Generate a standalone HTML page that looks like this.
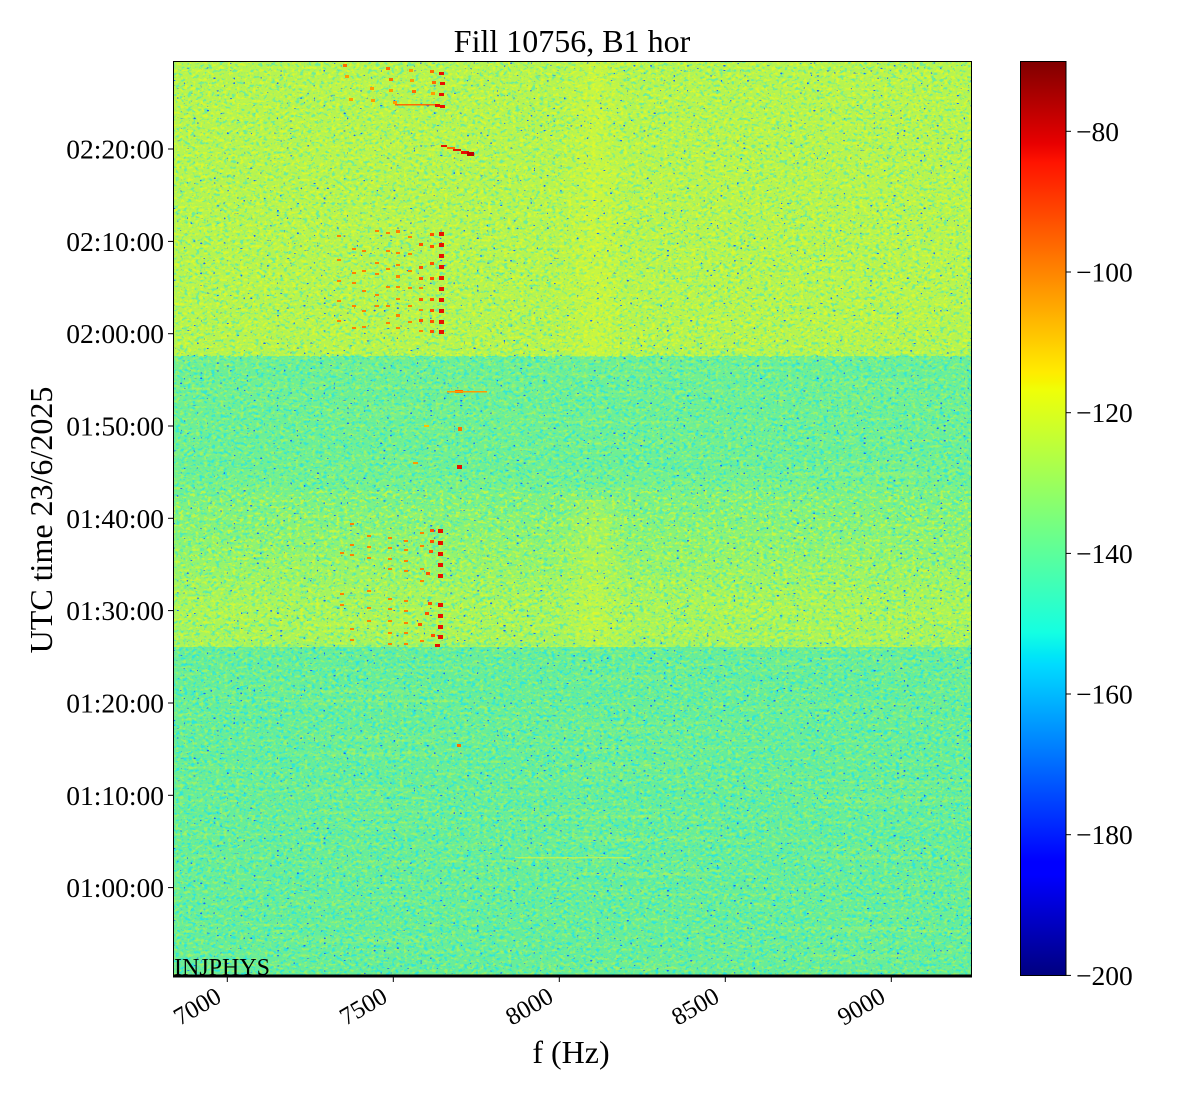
<!DOCTYPE html>
<html>
<head>
<meta charset="utf-8">
<style>
  html, body { margin: 0; padding: 0; background: #ffffff; }
  svg { display: block; }
  text { font-family: "Liberation Serif", "DejaVu Serif", serif; fill: #000; }
</style>
</head>
<body>
<svg width="1200" height="1100" viewBox="0 0 1200 1100" xmlns="http://www.w3.org/2000/svg">
  <defs>
    <linearGradient id="jet" x1="0" y1="1" x2="0" y2="0">
      <stop offset="0" stop-color="rgb(0,0,128)"/>
      <stop offset="0.11" stop-color="rgb(0,0,255)"/>
      <stop offset="0.125" stop-color="rgb(0,0,255)"/>
      <stop offset="0.34" stop-color="rgb(0,219,255)"/>
      <stop offset="0.35" stop-color="rgb(0,230,247)"/>
      <stop offset="0.375" stop-color="rgb(20,255,226)"/>
      <stop offset="0.64" stop-color="rgb(239,255,8)"/>
      <stop offset="0.65" stop-color="rgb(247,245,0)"/>
      <stop offset="0.66" stop-color="rgb(255,236,0)"/>
      <stop offset="0.89" stop-color="rgb(255,19,0)"/>
      <stop offset="0.91" stop-color="rgb(232,0,0)"/>
      <stop offset="1" stop-color="rgb(128,0,0)"/>
    </linearGradient>
    <linearGradient id="trans" gradientUnits="userSpaceOnUse" x1="0" y1="470" x2="0" y2="647">
      <stop offset="0" stop-color="rgb(112,240,146)"/>
      <stop offset="0.4" stop-color="rgb(140,243,116)"/>
      <stop offset="0.79" stop-color="rgb(172,245,88)"/>
      <stop offset="1" stop-color="rgb(168,244,92)"/>
    </linearGradient>
    <linearGradient id="vstrip" x1="0" y1="0" x2="1" y2="0">
      <stop offset="0" stop-color="rgb(240,250,30)" stop-opacity="0"/>
      <stop offset="0.5" stop-color="rgb(240,250,30)" stop-opacity="0.3"/>
      <stop offset="1" stop-color="rgb(240,250,30)" stop-opacity="0"/>
    </linearGradient>
    <filter id="fcy" x="0" y="0" width="1" height="1" color-interpolation-filters="sRGB">
      <feTurbulence type="fractalNoise" baseFrequency="0.25 0.33" numOctaves="2" seed="7"/>
      <feColorMatrix type="matrix" values="0 0 0 0 0.16  0 0 0 0 0.9  0 0 0 0 0.88  7 0 0 0 -3.75"/>
    </filter>
    <filter id="fye" x="0" y="0" width="1" height="1" color-interpolation-filters="sRGB">
      <feTurbulence type="fractalNoise" baseFrequency="0.25 0.33" numOctaves="2" seed="11"/>
      <feColorMatrix type="matrix" values="0 0 0 0 0.9  0 0 0 0 0.98  0 0 0 0 0.14  7 0 0 0 -3.75"/>
    </filter>
    <filter id="fbl" x="0" y="0" width="1" height="1" color-interpolation-filters="sRGB">
      <feTurbulence type="fractalNoise" baseFrequency="0.3 0.4" numOctaves="1" seed="23"/>
      <feColorMatrix type="matrix" values="0 0 0 0 0.08  0 0 0 0 0.4  0 0 0 0 1  28 0 0 0 -20.3"/>
    </filter>
    <filter id="frow" x="0" y="0" width="1" height="1" color-interpolation-filters="sRGB">
      <feTurbulence type="fractalNoise" baseFrequency="0.004 0.3" numOctaves="1" seed="3"/>
      <feColorMatrix type="matrix" values="0 0 0 0 0.85  0 0 0 0 0.97  0 0 0 0 0.25  5 0 0 0 -2.8"/>
    </filter>
    <filter id="frow2" x="0" y="0" width="1" height="1" color-interpolation-filters="sRGB">
      <feTurbulence type="fractalNoise" baseFrequency="0.004 0.3" numOctaves="1" seed="17"/>
      <feColorMatrix type="matrix" values="0 0 0 0 0.25  0 0 0 0 0.93  0 0 0 0 0.8  5 0 0 0 -2.8"/>
    </filter>
    <clipPath id="plotclip"><rect x="173" y="61" width="799" height="914"/></clipPath>
  </defs>

  <!-- Title -->
  <text x="572" y="52" font-size="32" text-anchor="middle">Fill 10756, B1 hor</text>

  <!-- Heatmap -->
  <g clip-path="url(#plotclip)">
    <rect x="173" y="61" width="799" height="296" fill="rgb(182,244,80)"/>
    <rect x="173" y="356" width="799" height="115" fill="rgb(110,239,148)"/>
    <rect x="173" y="470" width="799" height="178" fill="url(#trans)"/>
    <rect x="173" y="647" width="799" height="328" fill="rgb(104,237,152)"/>

    <!-- row streaks -->
    <rect x="173" y="61" width="799" height="914" fill="#000" filter="url(#frow)" opacity="0.25"/>
    <rect x="173" y="356" width="799" height="619" fill="#000" filter="url(#frow2)" opacity="0.2"/>

    <!-- speckle noise: top band -->
    <rect x="173" y="61" width="799" height="296" fill="#000" filter="url(#fcy)" opacity="0.55"/>
    <rect x="173" y="61" width="799" height="296" fill="#000" filter="url(#fye)" opacity="0.75"/>
    <!-- mid band -->
    <rect x="173" y="356" width="799" height="134" fill="#000" filter="url(#fcy)" opacity="0.85"/>
    <rect x="173" y="356" width="799" height="134" fill="#000" filter="url(#fye)" opacity="0.4"/>
    <!-- yellowish band -->
    <rect x="173" y="490" width="799" height="157" fill="#000" filter="url(#fcy)" opacity="0.6"/>
    <rect x="173" y="490" width="799" height="157" fill="#000" filter="url(#fye)" opacity="0.65"/>
    <!-- bottom band -->
    <rect x="173" y="647" width="799" height="328" fill="#000" filter="url(#fcy)" opacity="0.95"/>
    <rect x="173" y="647" width="799" height="328" fill="#000" filter="url(#fye)" opacity="0.4"/>

    <!-- brighter vertical strip near 8100 Hz -->
    <rect x="560" y="61" width="70" height="296" fill="url(#vstrip)"/>
    <rect x="560" y="500" width="70" height="147" fill="url(#vstrip)"/>

    <!-- blue dots -->
    <rect x="173" y="61" width="799" height="914" fill="#000" filter="url(#fbl)"/>

    <!-- faint streak near bottom -->
    <rect x="515" y="857" width="115" height="1.5" fill="rgb(215,245,60)" opacity="0.7"/>

    <!-- Marks: top region -->
    <g fill="#ff6a00">
      <rect x="343" y="64" width="4" height="3"/>
      <rect x="386" y="67" width="4" height="3"/>
      <rect x="430" y="70" width="4" height="3"/>
      <rect x="389" y="78" width="4" height="3"/>
      <rect x="432" y="81" width="4" height="3"/>
      <rect x="412" y="90" width="4" height="3"/>
      <rect x="395" y="104" width="40" height="1.5"/>
      <rect x="447" y="147" width="8" height="2"/>
      <rect x="455" y="390" width="8" height="3"/>
      <rect x="447" y="391" width="40" height="1.5" fill="#ff9a00"/>
      <rect x="458" y="427" width="4" height="4"/>
      <rect x="457" y="744" width="4" height="3"/>
    </g>
    <g fill="#ff9a00">
      <rect x="409" y="69" width="4" height="3"/>
      <rect x="345" y="75" width="4" height="3"/>
      <rect x="410" y="79" width="4" height="3"/>
      <rect x="370" y="87" width="4" height="3"/>
      <rect x="389" y="89" width="4" height="3"/>
      <rect x="431" y="92" width="4" height="3"/>
      <rect x="349" y="98" width="4" height="3"/>
      <rect x="371" y="99" width="4" height="3"/>
      <rect x="393" y="101" width="4" height="3"/>
      <rect x="413" y="462" width="5" height="2"/>
      <rect x="424" y="425" width="5" height="2" fill="#ffc000"/>
    </g>
    <g fill="#e81000">
      <rect x="439" y="72" width="5" height="3"/>
      <rect x="440" y="82" width="5" height="3"/>
      <rect x="439" y="93" width="5" height="3"/>
      <rect x="435" y="104" width="5" height="3"/>
      <rect x="440" y="105" width="5" height="3"/>
      <rect x="441" y="145" width="6" height="2"/>
      <rect x="453" y="149" width="8" height="2"/>
      <rect x="461" y="151" width="8" height="3"/>
      <rect x="467" y="152" width="7" height="4" fill="#c00000"/>
      <rect x="457" y="465" width="5" height="4"/>
    </g>

    <!-- Marks: 02:00-02:12 band -->
    <g fill="#e81000">
      <rect x="439" y="232" width="5" height="4"/><rect x="439" y="243" width="5" height="4"/>
      <rect x="439" y="254" width="5" height="4"/><rect x="439" y="265" width="5" height="4"/>
      <rect x="439" y="276" width="5" height="4"/><rect x="439" y="287" width="5" height="4"/>
      <rect x="439" y="298" width="5" height="4"/><rect x="439" y="309" width="5" height="4"/>
      <rect x="439" y="320" width="5" height="4"/><rect x="439" y="330" width="5" height="4"/>
    </g>
    <g fill="#ff5000">
      <rect x="430" y="233" width="4" height="3"/><rect x="430" y="245" width="4" height="3"/>
      <rect x="430" y="262" width="4" height="3"/><rect x="430" y="277" width="4" height="3"/>
      <rect x="430" y="298" width="4" height="3"/><rect x="430" y="309" width="4" height="3"/>
      <rect x="430" y="320" width="4" height="3"/><rect x="430" y="330" width="4" height="3"/>
      <rect x="419" y="243" width="4" height="3"/><rect x="419" y="266" width="4" height="3"/>
      <rect x="419" y="277" width="4" height="3"/><rect x="419" y="298" width="4" height="3"/>
      <rect x="419" y="319" width="4" height="3"/>
    </g>
    <g fill="#ff8000">
      <rect x="419" y="287" width="4" height="2"/><rect x="419" y="309" width="4" height="2"/>
      <rect x="419" y="330" width="4" height="2"/>
      <rect x="408" y="236" width="4" height="2"/><rect x="408" y="253" width="4" height="2"/>
      <rect x="408" y="270" width="4" height="2"/><rect x="408" y="287" width="4" height="2"/>
      <rect x="408" y="305" width="4" height="2"/><rect x="408" y="321" width="4" height="2"/>
      <rect x="396" y="230" width="4" height="3"/><rect x="396" y="252" width="4" height="2"/>
      <rect x="396" y="264" width="4" height="2"/><rect x="396" y="275" width="4" height="3"/>
      <rect x="396" y="286" width="4" height="2"/><rect x="396" y="298" width="4" height="2"/>
      <rect x="396" y="314" width="4" height="3"/><rect x="396" y="327" width="4" height="2"/>
      <rect x="386" y="232" width="4" height="2"/><rect x="386" y="250" width="4" height="2"/>
      <rect x="386" y="268" width="4" height="2"/><rect x="386" y="286" width="4" height="2"/>
      <rect x="386" y="305" width="4" height="2"/><rect x="386" y="322" width="4" height="2"/>
      <rect x="375" y="230" width="4" height="2"/><rect x="375" y="262" width="4" height="2"/>
      <rect x="375" y="273" width="4" height="2"/><rect x="375" y="294" width="4" height="2"/>
      <rect x="375" y="305" width="4" height="2"/>
      <rect x="362" y="250" width="4" height="2"/><rect x="362" y="270" width="4" height="2"/>
      <rect x="362" y="290" width="4" height="2"/><rect x="362" y="310" width="4" height="2"/>
      <rect x="362" y="326" width="4" height="2"/>
      <rect x="352" y="248" width="4" height="2"/><rect x="352" y="272" width="4" height="2"/>
      <rect x="352" y="282" width="4" height="2"/><rect x="352" y="305" width="4" height="2"/>
      <rect x="352" y="327" width="4" height="2"/>
      <rect x="337" y="235" width="4" height="2"/><rect x="337" y="259" width="4" height="2"/>
      <rect x="337" y="280" width="4" height="2"/><rect x="337" y="300" width="4" height="2"/>
      <rect x="337" y="320" width="4" height="2"/>
    </g>

    <!-- Marks: 01:26-01:39 band -->
    <g fill="#e81000">
      <rect x="438" y="529" width="5" height="4"/><rect x="438" y="541" width="5" height="4"/>
      <rect x="438" y="552" width="5" height="4"/><rect x="438" y="563" width="5" height="4"/>
      <rect x="438" y="574" width="5" height="4"/><rect x="438" y="603" width="5" height="4"/>
      <rect x="438" y="614" width="5" height="4"/><rect x="438" y="625" width="5" height="4"/>
      <rect x="438" y="635" width="5" height="4"/><rect x="435" y="644" width="5" height="3"/>
    </g>
    <g fill="#ff5000">
      <rect x="430" y="529" width="4" height="3"/><rect x="430" y="540" width="4" height="3"/>
      <rect x="429" y="550" width="4" height="3"/><rect x="426" y="572" width="4" height="3"/>
      <rect x="428" y="602" width="4" height="3"/><rect x="425" y="612" width="4" height="3"/>
      <rect x="418" y="623" width="4" height="3"/><rect x="431" y="634" width="4" height="3"/>
    </g>
    <g fill="#ff8000">
      <rect x="420" y="532" width="4" height="2"/><rect x="420" y="545" width="4" height="2"/>
      <rect x="420" y="568" width="4" height="2"/><rect x="420" y="580" width="4" height="2"/>
      <rect x="420" y="640" width="4" height="2"/>
      <rect x="404" y="540" width="4" height="2"/><rect x="404" y="549" width="4" height="2"/>
      <rect x="404" y="560" width="4" height="2"/><rect x="404" y="570" width="4" height="2"/>
      <rect x="404" y="600" width="4" height="2"/><rect x="404" y="610" width="4" height="2"/>
      <rect x="404" y="622" width="4" height="2"/><rect x="404" y="632" width="4" height="2"/>
      <rect x="404" y="643" width="4" height="2"/>
      <rect x="388" y="537" width="4" height="2"/><rect x="388" y="547" width="4" height="2"/>
      <rect x="388" y="558" width="4" height="2"/><rect x="388" y="568" width="4" height="2"/>
      <rect x="388" y="598" width="4" height="2"/><rect x="388" y="608" width="4" height="2"/>
      <rect x="388" y="620" width="4" height="2"/><rect x="388" y="632" width="4" height="2"/>
      <rect x="388" y="643" width="4" height="2"/>
      <rect x="367" y="535" width="4" height="2"/><rect x="367" y="546" width="4" height="2"/>
      <rect x="367" y="557" width="4" height="2"/><rect x="367" y="590" width="4" height="2"/>
      <rect x="367" y="607" width="4" height="2"/><rect x="367" y="620" width="4" height="2"/>
      <rect x="350" y="523" width="4" height="2"/><rect x="350" y="544" width="4" height="2"/>
      <rect x="350" y="554" width="4" height="2"/><rect x="350" y="628" width="4" height="2"/>
      <rect x="350" y="639" width="4" height="2"/>
      <rect x="340" y="552" width="4" height="2"/><rect x="340" y="593" width="4" height="2"/>
      <rect x="340" y="604" width="4" height="2"/>
    </g>
  </g>

  <!-- INJPHYS label -->
  <text x="174" y="975" font-size="24">INJPHYS</text>

  <!-- Axes spines -->
  <rect x="173.5" y="61.5" width="798" height="913.5" fill="none" stroke="#000" stroke-width="1"/>
  <rect x="173" y="974.5" width="799" height="3" fill="#000"/>

  <!-- Y ticks -->
  <g stroke="#000" stroke-width="1">
    <line x1="168" y1="149" x2="173" y2="149"/>
    <line x1="168" y1="241.4" x2="173" y2="241.4"/>
    <line x1="168" y1="333.7" x2="173" y2="333.7"/>
    <line x1="168" y1="426" x2="173" y2="426"/>
    <line x1="168" y1="518.3" x2="173" y2="518.3"/>
    <line x1="168" y1="610.6" x2="173" y2="610.6"/>
    <line x1="168" y1="703" x2="173" y2="703"/>
    <line x1="168" y1="795.3" x2="173" y2="795.3"/>
    <line x1="168" y1="887.6" x2="173" y2="887.6"/>
  </g>
  <g font-size="27.5" text-anchor="end">
    <text x="164" y="158.5">02:20:00</text>
    <text x="164" y="250.9">02:10:00</text>
    <text x="164" y="343.2">02:00:00</text>
    <text x="164" y="435.5">01:50:00</text>
    <text x="164" y="527.8">01:40:00</text>
    <text x="164" y="620.1">01:30:00</text>
    <text x="164" y="712.5">01:20:00</text>
    <text x="164" y="804.8">01:10:00</text>
    <text x="164" y="897.1">01:00:00</text>
  </g>

  <!-- Y label -->
  <text x="52" y="520" font-size="32" text-anchor="middle" transform="rotate(-90 52 520)">UTC time 23/6/2025</text>

  <!-- X ticks -->
  <g stroke="#000" stroke-width="1">
    <line x1="227.3" y1="977" x2="227.3" y2="982"/>
    <line x1="393.3" y1="977" x2="393.3" y2="982"/>
    <line x1="559.3" y1="977" x2="559.3" y2="982"/>
    <line x1="725.3" y1="977" x2="725.3" y2="982"/>
    <line x1="891.3" y1="977" x2="891.3" y2="982"/>
  </g>
  <g font-size="25" text-anchor="end">
    <text x="223" y="1001" transform="rotate(-30 223 1001)">7000</text>
    <text x="389" y="1001" transform="rotate(-30 389 1001)">7500</text>
    <text x="555" y="1001" transform="rotate(-30 555 1001)">8000</text>
    <text x="721" y="1001" transform="rotate(-30 721 1001)">8500</text>
    <text x="887" y="1001" transform="rotate(-30 887 1001)">9000</text>
  </g>

  <!-- X label -->
  <text x="571" y="1063" font-size="32" text-anchor="middle">f (Hz)</text>

  <!-- Colorbar -->
  <rect x="1020" y="61.5" width="46" height="914" fill="url(#jet)"/>
  <rect x="1020.5" y="61.5" width="45.5" height="914" fill="none" stroke="#000" stroke-width="1"/>
  <g stroke="#000" stroke-width="1">
    <line x1="1066" y1="131.3" x2="1071" y2="131.3"/>
    <line x1="1066" y1="272" x2="1071" y2="272"/>
    <line x1="1066" y1="412.7" x2="1071" y2="412.7"/>
    <line x1="1066" y1="553.4" x2="1071" y2="553.4"/>
    <line x1="1066" y1="694" x2="1071" y2="694"/>
    <line x1="1066" y1="834.7" x2="1071" y2="834.7"/>
    <line x1="1066" y1="975.4" x2="1071" y2="975.4"/>
  </g>
  <g font-size="27.5">
    <text x="1076" y="140.8">−80</text>
    <text x="1076" y="281.5">−100</text>
    <text x="1076" y="422.2">−120</text>
    <text x="1076" y="562.9">−140</text>
    <text x="1076" y="703.5">−160</text>
    <text x="1076" y="844.2">−180</text>
    <text x="1076" y="984.9">−200</text>
  </g>
</svg>
</body>
</html>
